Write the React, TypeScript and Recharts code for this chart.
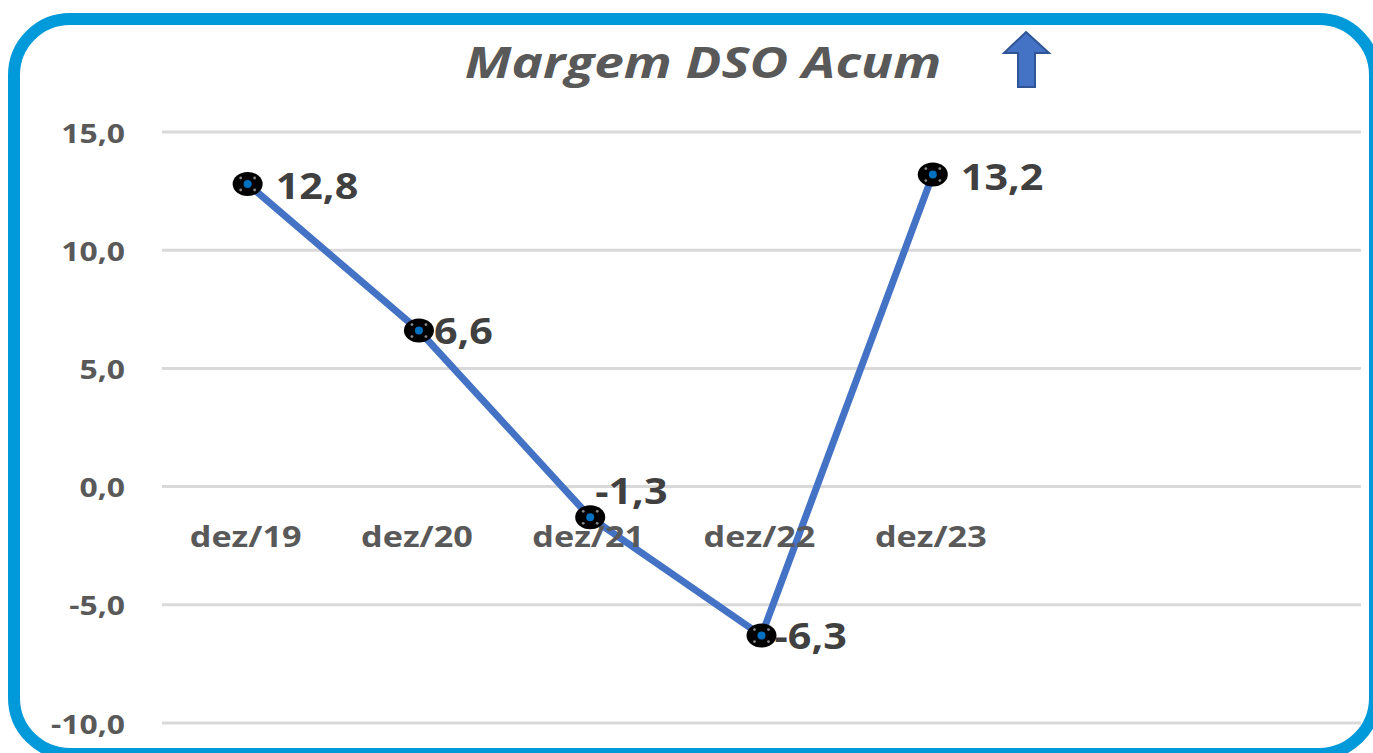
import React from "react";
import { CartesianGrid, LabelList, Line, LineChart, XAxis, YAxis } from "recharts";

const categories = ["dez/19", "dez/20", "dez/21", "dez/22", "dez/23", "", " "];
const margem = [12.8, 6.6, -1.3, -6.3, 13.2, null, null];
const yTicks = [-10, -5, 0, 5, 10, 15];

// nudges for the data labels (right of the point, "-1,3" sits above)
const labelNudge = [
  { dx: 28, dy: 1 },
  { dx: 15, dy: 0 },
  { dx: 5, dy: -27 },
  { dx: 13, dy: 0 },
  { dx: 28, dy: 2 },
];

const W = 1373;
const H = 753;
const M = { top: 132, right: 12, bottom: 0, left: 0 };
const X_AXIS_H = 30;
const Y_MIN = -10;
const Y_MAX = 15;
const FONT = "'Open Sans', Lato, sans-serif";
const STRETCH = 1.18; // source picture is wider than it is tall

const data = categories.map((c, i) => ({ cat: c, v: margem[i] }));
const fmt = (v: number) => v.toFixed(1).replace(".", ",");

// y pixel of the zero line, so the category labels sit under it like in Excel
const plotH = H - M.top - M.bottom - X_AXIS_H;
const zeroY = M.top + ((Y_MAX - 0) / (Y_MAX - Y_MIN)) * plotH;

function Txt({ x, y, anchor = "start", size, color, italic, sx = STRETCH, children }: any) {
  return (
    <text
      transform={`translate(${x},${y}) scale(${sx},1)`}
      textAnchor={anchor}
      dominantBaseline="central"
      fontFamily={FONT}
      fontWeight={700}
      fontStyle={italic ? "italic" : "normal"}
      fontSize={size}
      fill={color}
    >
      {children}
    </text>
  );
}

function CatTick(props: any) {
  const { x, payload } = props;
  if (!payload.value.trim()) return null;
  return (
    <Txt x={x - 2} y={zeroY + 49} anchor="middle" size={29} color="#595959">
      {payload.value}
    </Txt>
  );
}

function ValTick(props: any) {
  const { y, payload } = props;
  return (
    <Txt x={125} y={y} anchor="end" size={27} color="#595959">
      {fmt(payload.value)}
    </Txt>
  );
}

function Marker(props: any) {
  const { cx, cy, value } = props;
  if (value == null || cx == null) return null;
  return (
    <g>
      <ellipse cx={cx} cy={cy} rx={15} ry={12} fill="#000" />
      <circle cx={cx} cy={cy} r={4} fill="#0070C0" />
      <circle cx={cx - 7} cy={cy - 6} r={1.4} fill="#8a8a8a" />
      <circle cx={cx + 7} cy={cy - 6} r={1.4} fill="#8a8a8a" />
      <circle cx={cx - 7} cy={cy + 6} r={1.4} fill="#8a8a8a" />
      <circle cx={cx + 7} cy={cy + 6} r={1.4} fill="#8a8a8a" />
    </g>
  );
}

function ValLabel(props: any) {
  const { x, y, value, index } = props;
  if (value == null) return null;
  const n = labelNudge[index] || { dx: 20, dy: 0 };
  return (
    <Txt x={x + n.dx} y={y + n.dy} size={35} color="#404040">
      {fmt(value)}
    </Txt>
  );
}

export default function App() {
  return (
    <div
      style={{
        position: "fixed",
        left: 0,
        top: 0,
        width: W,
        height: H,
        overflow: "hidden",
        background: "#fff",
      }}
    >
      <div
        style={{
          position: "absolute",
          left: 8,
          top: 13,
          width: 1373,
          height: 747,
          boxSizing: "border-box",
          border: "12px solid #0099DA",
          borderRadius: 62,
        }}
      />
      <div style={{ position: "absolute", left: 0, top: 0 }}>
        <LineChart width={W} height={H} data={data} margin={M}>
          <Txt x={703} y={61} anchor="middle" size={43} sx={1.235} color="#595959" italic>
            Margem DSO Acum
          </Txt>
          <polygon
            points="1026,32 1049,53 1035,53 1035,87 1018,87 1018,53 1004,53"
            fill="#4472C4"
            stroke="#2F5597"
            strokeWidth={2}
          />
          <CartesianGrid vertical={false} stroke="#d9d9d9" strokeWidth={3} />
          <XAxis
            dataKey="cat"
            scale="band"
            axisLine={false}
            tickLine={false}
            height={X_AXIS_H}
            interval={0}
            tick={<CatTick />}
          />
          <YAxis
            domain={[Y_MIN, Y_MAX]}
            ticks={yTicks}
            width={162}
            axisLine={false}
            tickLine={false}
            tick={<ValTick />}
          />
          <Line
            dataKey="v"
            stroke="#4472C4"
            strokeWidth={7}
            dot={<Marker />}
            activeDot={false}
            isAnimationActive={false}
          >
            <LabelList dataKey="v" content={<ValLabel />} />
          </Line>
        </LineChart>
      </div>
    </div>
  );
}
